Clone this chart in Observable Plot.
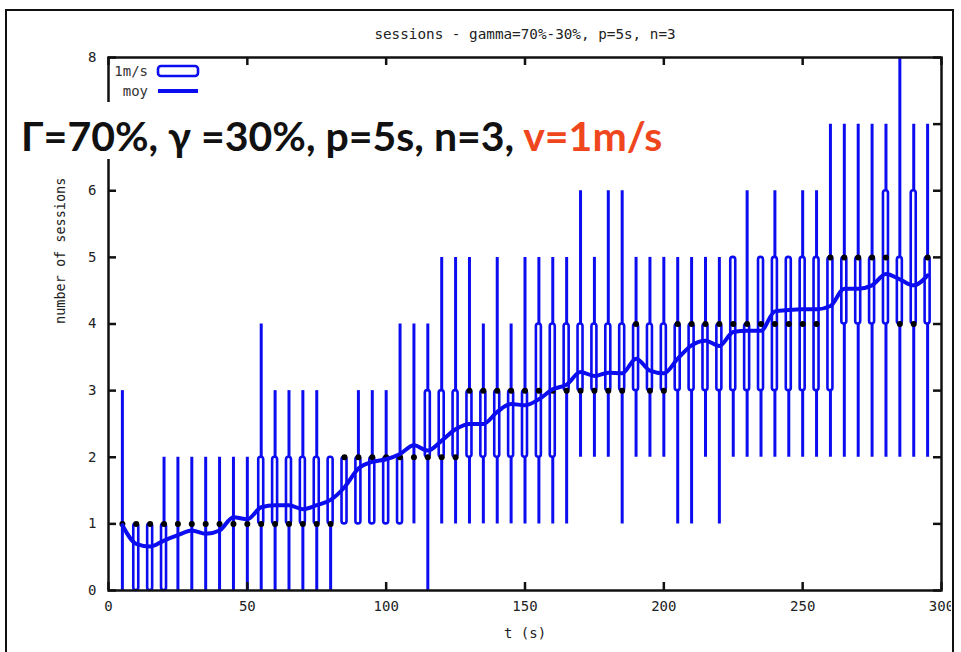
<!DOCTYPE html>
<html><head><meta charset="utf-8">
<script src="https://cdn.jsdelivr.net/npm/d3@7"></script>
<script src="https://cdn.jsdelivr.net/npm/@observablehq/plot@0.6"></script>
<style>
html,body{margin:0;padding:0;background:#fff;}
#wrap{position:relative;width:961px;height:652px;overflow:hidden;background:#fff;}
#chart{position:absolute;left:0;top:0;}
#border{position:absolute;left:5px;top:9px;width:945px;height:700px;border:2px solid #111;pointer-events:none;}
#clipR{position:absolute;left:951px;top:0;width:10px;height:652px;background:#fff;}
#banner{position:absolute;left:15px;top:102px;width:655px;height:57px;background:#fff;}
#bannerText{position:absolute;left:21px;top:115px;font:700 41px Lato,sans-serif;line-height:1;color:#111;white-space:nowrap;}
#bannerText .v{color:#f0461e;}
.lg{position:absolute;font:14px "DejaVu Sans Mono",monospace;color:#333;line-height:1;text-align:right;width:40px;}
#lgsvg{position:absolute;left:150px;top:60px;}
</style></head><body>
<div id="wrap">
  <div id="chart"></div>
  <div class="lg" id="lg1" style="left:108px;top:64px;"></div>
  <div class="lg" id="lg2" style="left:108px;top:84px;"></div>
  <svg id="lgsvg" width="60" height="40"></svg>
  <div id="banner"></div>
  <div id="bannerText"><span id="b1"></span><span class="v" id="b2"></span></div>
  <div id="clipR"></div>
  <div id="border"></div>
</div>
<script>
// ---- data ----
const t    = [5,10,15,20,25,30,35,40,45,50,55,60,65,70,75,80,85,90,95,100,105,110,115,120,125,130,135,140,145,150,155,160,165,170,175,180,185,190,195,200,205,210,215,220,225,230,235,240,245,250,255,260,265,270,275,280,285,290,295];
const lo   = [0,0,0,0,0,0,0,0,0,0, 0,0,0,0,0,0,1,1,1,1, 1,1,0,1,1,1,1,1,1,1, 1,1,1,2,2,2,1,2,2,2, 1,1,2,1,2,2,2,2,2,2, 2,2,2,2,2,2,2,2,2];
const q1   = [1,0,0,0,1,1,1,1,1,1, 1,1,1,1,1,1,1,1,1,1, 1,2,2,2,2,2,2,2,2,2, 2,2,3,3,3,3,3,3,3,3, 3,3,3,3,3,3,3,3,3,3, 3,3,4,4,4,4,4,4,4];
const q3   = [1,1,1,1,1,1,1,1,1,1, 2,2,2,2,2,2,2,2,2,2, 2,2,3,3,3,3,3,3,3,3, 4,4,4,4,4,4,4,4,4,4, 4,4,4,4,5,4,5,5,5,5, 5,5,5,5,5,6,5,6,5];
const hi   = [3,1,1,2,2,2,2,2,2,2, 4,3,3,3,3,2,2,3,3,3, 4,4,4,5,5,5,4,5,4,5, 5,5,5,6,5,6,6,5,5,5, 5,5,5,5,5,6,5,6,5,6, 6,7,7,7,7,7,8,7,7];
const med  = [1,1,1,1,1,1,1,1,1,1, 1,1,1,1,1,1,2,2,2,2, 2,2,2,2,2,3,3,3,3,3, 3,3,3,3,3,3,3,4,3,3, 4,4,4,4,4,4,4,4,4,4, 4,5,5,5,5,5,4,4,5];
const moy  = [0.98,0.70,0.66,0.75,0.83,0.90,0.85,0.90,1.10,1.07, 1.25,1.28,1.28,1.22,1.28,1.36,1.55,1.83,1.93,1.97, 2.05,2.18,2.10,2.25,2.42,2.50,2.50,2.68,2.80,2.78, 2.87,3.02,3.09,3.28,3.22,3.27,3.26,3.48,3.30,3.26, 3.48,3.68,3.75,3.67,3.88,3.90,3.90,4.19,4.21,4.22, 4.22,4.27,4.53,4.53,4.58,4.75,4.67,4.58,4.73];
const xTicks = [0,50,100,150,200,250,300];
const yTicks = [0,1,2,3,4,5,6,7,8];
// the "7" label is hidden behind the white banner in the reference
const yTickLabels = [0,1,2,3,4,5,6,8];
const seriesName = "1m/s";
const meanName = "moy";
const titleText = "sessions - gamma=70%-30%, p=5s, n=3";
const xLabel = "t (s)";
const yLabel = "number of sessions";
const bannerMain = "Γ=70%, γ =30%, p=5s, n=3, ";
const bannerRed = "v=1m/s";

const data = t.map((d,i)=>({t:d, lo:lo[i], q1:q1[i], q3:q3[i], hi:hi[i], med:med[i], moy:moy[i]}));

const W=961, H=652, mL=108, mR=20, mT=57, mB=62;
const innerW = W-mL-mR, innerH = H-mT-mB;
const blue = "#0c0cf0", ink = "#111";
const half = 0.9, tickLen = 8;

const chart = Plot.plot({
  width:W, height:H, marginLeft:mL, marginRight:mR, marginTop:mT, marginBottom:mB,
  style:{fontFamily:'"DejaVu Sans Mono", monospace', fontSize:"14px", color:"#222", background:"transparent"},
  x:{domain:[0,300]},
  y:{domain:[0,8]},
  marks:[
    Plot.ruleX(data,{x:"t", y1:"lo", y2:"hi", stroke:blue, strokeWidth:3}),
    Plot.rect(data,{x1:d=>d.t-half, x2:d=>d.t+half, y1:"q1", y2:"q3", fill:"white", stroke:blue, strokeWidth:2.6, rx:2.5}),
    Plot.dot(data,{x:"t", y:"med", r:3, fill:"#000", stroke:null}),
    Plot.line(data,{x:"t", y:"moy", stroke:blue, strokeWidth:4, curve:"monotone-x"}),
    Plot.frame({stroke:ink, strokeWidth:2.5}),
    Plot.tickX(xTicks,{x:d=>d, insetTop:innerH-tickLen, stroke:ink, strokeWidth:2.5}),
    Plot.tickX(xTicks,{x:d=>d, insetBottom:innerH-tickLen, stroke:ink, strokeWidth:2.5}),
    Plot.tickY(yTicks,{y:d=>d, insetRight:innerW-tickLen, stroke:ink, strokeWidth:2.5}),
    Plot.tickY(yTicks,{y:d=>d, insetLeft:innerW-tickLen, stroke:ink, strokeWidth:2.5}),
    Plot.axisX(xTicks,{tickSize:0, tickPadding:11, label:null, tickFormat:d=>String(d)}),
    Plot.axisY(yTickLabels,{tickSize:0, tickPadding:12, label:null, tickFormat:d=>String(d)}),
    Plot.text([titleText],{frameAnchor:"top", dy:-29, fontSize:14.3}),
    Plot.text([yLabel],{frameAnchor:"left", dx:-48, rotate:-90, fontSize:13.5}),
    Plot.text([xLabel],{frameAnchor:"bottom", dy:47, fontSize:14})
  ]
});
document.getElementById("chart").appendChild(chart);

document.getElementById("lg1").textContent = seriesName;
document.getElementById("lg2").textContent = meanName;
document.getElementById("b1").textContent = bannerMain;
document.getElementById("b2").textContent = bannerRed;

const lg = d3.select("#lgsvg");
lg.append("rect").attr("x",8).attr("y",6).attr("width",40).attr("height",10).attr("rx",3)
  .attr("fill","white").attr("stroke",blue).attr("stroke-width",2.6);
lg.append("line").attr("x1",8).attr("x2",48).attr("y1",31).attr("y2",31)
  .attr("stroke",blue).attr("stroke-width",4);
</script>
</body></html>
